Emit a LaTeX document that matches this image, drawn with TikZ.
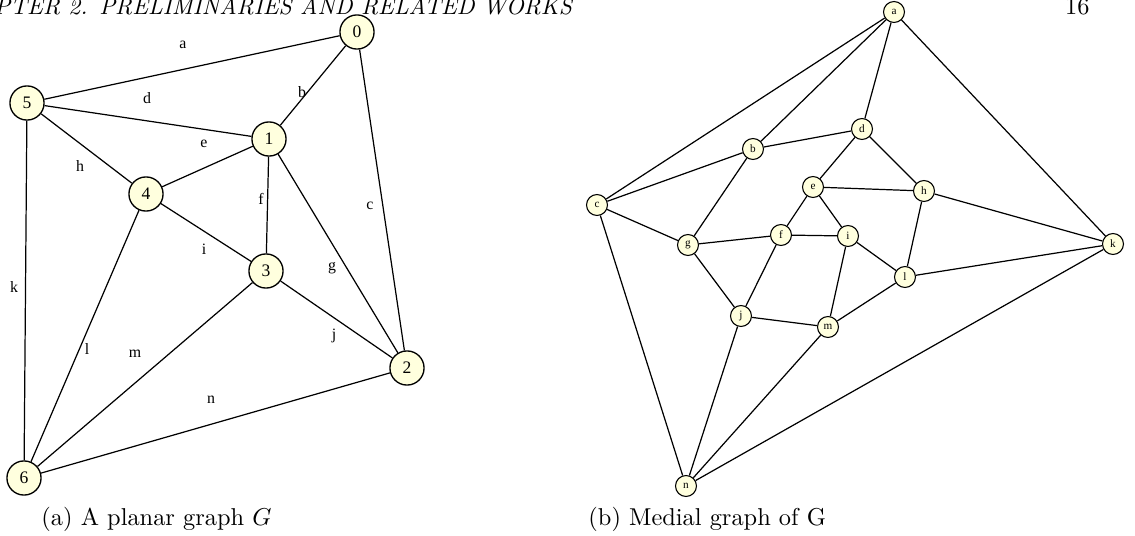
\documentclass[tikz,border=0pt]{standalone}
\usepackage{fontspec}
\newfontfamily\graphfont{Liberation Serif}
\definecolor{nodefill}{RGB}{255,255,222}
\begin{document}
\begin{tikzpicture}[x=0.41pt,y=-0.41pt,
  vbig/.style={circle,draw,fill=nodefill,line width=0.55pt,minimum size=14pt,inner sep=0pt,
    font=\graphfont\fontsize{7.2}{8}\selectfont},
  vsmall/.style={circle,draw,fill=nodefill,line width=0.45pt,minimum size=8.6pt,inner sep=0pt,
    font=\graphfont\fontsize{4.6}{5}\selectfont},
  elabel/.style={inner sep=0pt,font=\graphfont\fontsize{6.5}{7}\selectfont},
  gedge/.style={line width=0.5pt},
  caption/.style={anchor=base west,inner sep=0pt,font=\fontsize{10}{12}\selectfont}]
\useasboundingbox (0,0) rectangle (1135,536);
\clip (0,0) rectangle (1135,536);

% running head
\node[anchor=base west,inner sep=0pt,font=\fontsize{9.6}{12}\selectfont\itshape] (head) at (-6,15)
  {PTER 2.\enspace PRELIMINARIES AND RELATED WORKS};
\node[anchor=base east,inner sep=0pt,font=\fontsize{10}{12}\selectfont] (page) at (1090,15) {16};

% (a) planar graph G
\node[vbig] (v0) at (357,32) {0};
\node[vbig] (v5) at (27,103) {5};
\node[vbig] (v1) at (269,139) {1};
\node[vbig] (v4) at (146,194) {4};
\node[vbig] (v3) at (266,271) {3};
\node[vbig] (v2) at (407,368) {2};
\node[vbig] (v6) at (24,478) {6};

\draw[gedge] (v5) -- (v0);
\draw[gedge] (v0) -- (v1);
\draw[gedge] (v0) -- (v2);
\draw[gedge] (v5) -- (v1);
\draw[gedge] (v4) -- (v1);
\draw[gedge] (v1) -- (v3);
\draw[gedge] (v1) -- (v2);
\draw[gedge] (v5) -- (v4);
\draw[gedge] (v4) -- (v3);
\draw[gedge] (v3) -- (v2);
\draw[gedge] (v5) -- (v6);
\draw[gedge] (v4) -- (v6);
\draw[gedge] (v3) -- (v6);
\draw[gedge] (v2) -- (v6);

\node[elabel] (la) at (183,45) {a};
\node[elabel] (lb) at (302,92) {b};
\node[elabel] (lc) at (370,206) {c};
\node[elabel] (ld) at (147,98) {d};
\node[elabel] (le) at (204,144) {e};
\node[elabel] (lf) at (261,199) {f};
\node[elabel] (lg) at (332,268) {g};
\node[elabel] (lh) at (80,166) {h};
\node[elabel] (li) at (204,249) {i};
\node[elabel] (lj) at (334,336) {j};
\node[elabel] (lk) at (14,287) {k};
\node[elabel] (ll) at (87,349) {l};
\node[elabel] (lm) at (135,354) {m};
\node[elabel] (ln) at (211,400) {n};

\node[caption] (capa) at (41,525) {(a) A planar graph $G$};

% (b) medial graph
\node[vsmall] (ma) at (894,12) {a};
\node[vsmall] (mb) at (753,149) {b};
\node[vsmall] (mc) at (597,205) {c};
\node[vsmall] (md) at (862,129) {d};
\node[vsmall] (me) at (813,187) {e};
\node[vsmall] (mf) at (781,235) {f};
\node[vsmall] (mg) at (688,245) {g};
\node[vsmall] (mh) at (924,191) {h};
\node[vsmall] (mi) at (848,236) {i};
\node[vsmall] (mj) at (741,316) {j};
\node[vsmall] (mk) at (1113,244) {k};
\node[vsmall] (ml) at (905,277) {l};
\node[vsmall] (mm) at (828,327) {m};
\node[vsmall] (mn) at (686,486) {n};

\foreach \s/\t in {ma/mb,ma/mc,ma/md,ma/mk,mb/mc,mb/md,mb/mg,mc/mg,mc/mn,
                   md/me,md/mh,me/mh,me/mf,me/mi,mf/mg,mf/mi,mf/mj,mg/mj,
                   mh/mk,mh/ml,mi/ml,mi/mm,mj/mm,mj/mn,mk/ml,mk/mn,ml/mm,mm/mn}
  \draw[gedge] (\s) -- (\t);

\node[caption] (capb) at (588,525) {(b) Medial graph of G};
\end{tikzpicture}
\end{document}
